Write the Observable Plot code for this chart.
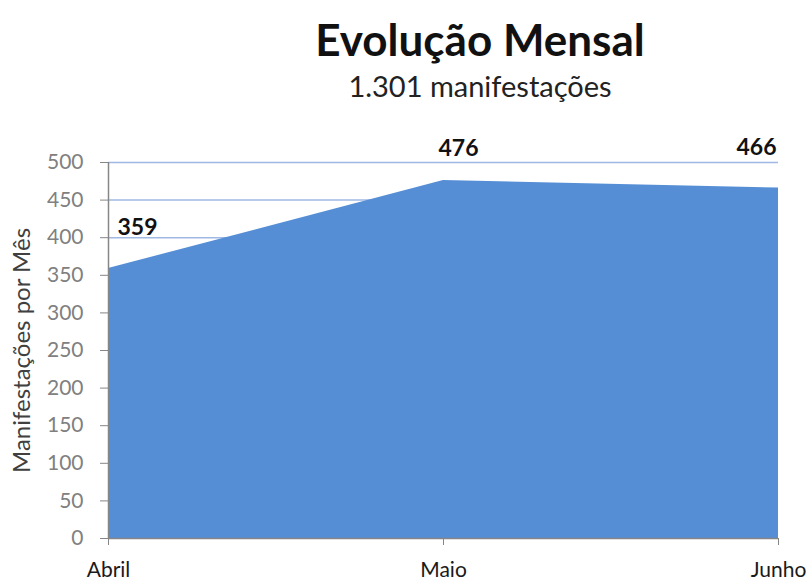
<!DOCTYPE html>
<html>
<head>
<meta charset="utf-8">
<script src="https://cdn.jsdelivr.net/npm/d3@7"></script>
<script src="https://cdn.jsdelivr.net/npm/@observablehq/plot@0.6"></script>
<style>
  html, body { margin: 0; padding: 0; background: #fff; }
  body { width: 812px; height: 584px; position: relative; overflow: hidden; font-family: Lato, "Open Sans", sans-serif; }
  #title { position: absolute; left: 0; width: 960px; top: 17px; text-align: center; font-size: 44px; font-weight: bold; color: #111; line-height: 1; }
  #subtitle { position: absolute; left: 0; width: 960px; top: 71px; text-align: center; font-size: 29px; color: #222; line-height: 1; }
  #chart { position: absolute; left: 0; top: 120px; }
</style>
</head>
<body>
<div id="title">Evolução Mensal</div>
<div id="subtitle">1.301 manifestações</div>
<div id="chart"></div>
<script>
const months = ["Abril", "Maio", "Junho"];
const values = [359, 476, 466];
const yTicks = [0, 50, 100, 150, 200, 250, 300, 350, 400, 450, 500];

const data = months.map((m, i) => ({month: m, value: values[i]}));

const chart = Plot.plot({
  width: 812,
  height: 464,
  marginLeft: 108,
  marginRight: 34,
  marginTop: 42,
  marginBottom: 46,
  style: {fontFamily: "Lato, 'Open Sans', sans-serif", background: "#fff"},
  x: {type: "point", domain: months, padding: 0, label: null},
  y: {domain: [0, 500], ticks: yTicks, label: null},
  marks: [
    Plot.ruleY(yTicks.filter(t => t > 0), {stroke: "#9fb8e4", strokeWidth: 1.5}),
    Plot.areaY(data, {x: "month", y: "value", fill: "#558ed5", curve: "linear"}),
    Plot.axisY({ticks: yTicks, tickSize: 8, tickPadding: 17, fontSize: 21, color: "#808080", stroke: "#868686", label: null}),
    Plot.ruleX([months[0]], {stroke: "#868686", strokeWidth: 1.5}),
    Plot.ruleY([0], {stroke: "#868686", strokeWidth: 1.5}),
    Plot.axisX({tickSize: 7, tickPadding: 17, fontSize: 21, color: "#1a1a1a", stroke: "#868686", label: null}),
    Plot.text(data.filter((d, i) => i === 0), {x: "month", y: "value", text: d => String(d.value), textAnchor: "start", dx: 9, dy: -41, fontSize: 23, fontWeight: "bold", fill: "#111"}),
    Plot.text(data.filter((d, i) => i === 1), {x: "month", y: "value", text: d => String(d.value), textAnchor: "middle", dx: 15, dy: -32, fontSize: 23, fontWeight: "bold", fill: "#111"}),
    Plot.text(data.filter((d, i) => i === 2), {x: "month", y: "value", text: d => String(d.value), textAnchor: "end", dx: -2, dy: -40, fontSize: 23, fontWeight: "bold", fill: "#111"}),
    Plot.text(["Manifestações por Mês"], {frameAnchor: "left", rotate: -90, dx: -86, fontSize: 24, fill: "#404040", textAnchor: "middle"})
  ]
});
document.getElementById("chart").appendChild(chart);
</script>
</body>
</html>
